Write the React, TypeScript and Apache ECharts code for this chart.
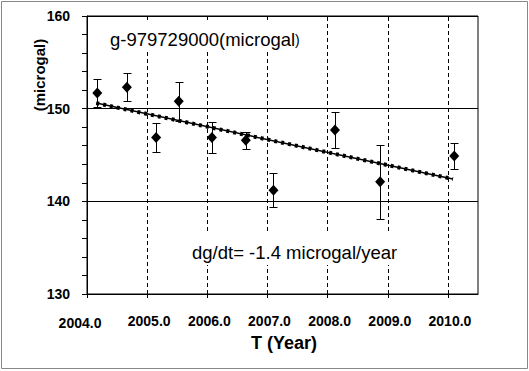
import React, { useEffect, useRef } from "react";
import * as echarts from "echarts";

const years = [2004.171, 2004.663, 2005.149, 2005.525, 2006.077, 2006.64, 2007.1, 2008.122, 2008.873, 2010.105];
const gravity = [151.7, 152.3, 146.9, 150.8, 146.9, 146.6, 141.2, 147.7, 142.1, 144.9];
const errors = [1.5, 1.5, 1.55, 2.1, 1.7, 0.9, 1.85, 1.95, 4.0, 1.4];
const trendX = [2004.154, 2010.083];
const trendY = [150.6, 142.41];
const xTicks = [2004, 2005, 2006, 2007, 2008, 2009, 2010];
const dashedYears = [2005, 2006, 2007, 2008, 2009, 2010];

const FONT = "'Liberation Sans', Arial, sans-serif";

export default function App() {
  const ref = useRef<HTMLDivElement>(null);
  useEffect(() => {
    if (!ref.current) return;
    const chart = echarts.init(ref.current, undefined, { renderer: "svg" });
    const points = years.map((x, i) => [x, gravity[i]]);
    const errData = years.map((x, i) => [x, gravity[i], errors[i]]);
    const trend = trendX.map((x, i) => [x, trendY[i]]);
    chart.setOption({
      animation: false,
      backgroundColor: "#fff",
      grid: {
        left: 87,
        top: 16,
        right: 51,
        bottom: 77,
        show: true,
        borderColor: "#000",
        borderWidth: 1,
        backgroundColor: "transparent",
      },
      xAxis: {
        type: "value",
        min: 2004,
        max: 2010.5,
        interval: 1,
        axisLine: { show: true, lineStyle: { color: "#000", width: 1 } },
        axisTick: { show: true, length: 4, lineStyle: { color: "#000" }, customValues: xTicks },
        splitLine: { show: false },
        axisLabel: {
          customValues: xTicks,
          margin: 20,
          color: "#000",
          fontWeight: "bold",
          fontSize: 14,
          fontFamily: FONT,
          formatter: (v: number) =>
            Number.isInteger(v) ? (v === 2004 ? "{f|" + v.toFixed(1) + "}" : "{o|" + v.toFixed(1) + "}") : "",
          rich: {
            f: { fontWeight: "bold", fontSize: 14, fontFamily: FONT, color: "#000", padding: [2, 14, 0, 0] },
            o: { fontWeight: "bold", fontSize: 14, fontFamily: FONT, color: "#000", padding: [0, 0, 0, 4] },
          },
        },
      },
      yAxis: {
        type: "value",
        min: 130,
        max: 160,
        interval: 10,
        axisLine: { show: true, lineStyle: { color: "#000", width: 1 } },
        axisTick: { show: true, length: 5, lineStyle: { color: "#000" } },
        minorTick: { show: true, splitNumber: 5, length: 5, lineStyle: { color: "#000" } },
        splitLine: { show: true, lineStyle: { color: "#000", width: 1 } },
        axisLabel: {
          margin: 17,
          color: "#000",
          fontWeight: "bold",
          fontSize: 14,
          fontFamily: FONT,
        },
      },
      series: [
        {
          type: "line",
          data: trend,
          showSymbol: false,
          lineStyle: { color: "#000", width: 1.5 },
          z: 3,
        },
        {
          type: "line",
          data: trend,
          showSymbol: false,
          lineStyle: { color: "#000", width: 4, type: [3, 4] },
          z: 3,
          markLine: {
            silent: true,
            symbol: "none",
            label: { show: false },
            lineStyle: { color: "#000", width: 1, type: [4, 3] },
            data: dashedYears.map((v) => ({ xAxis: v })),
          },
        },
        {
          type: "custom",
          data: errData,
          encode: { x: 0, y: 1 },
          z: 4,
          renderItem: (params: any, api: any) => {
            const x = api.value(0);
            const y = api.value(1);
            const e = api.value(2);
            const top = api.coord([x, y + e]);
            const bot = api.coord([x, y - e]);
            const cx = Math.round(top[0]) + 0.5;
            const ty = Math.round(top[1]) + 0.5;
            const by = Math.round(bot[1]) + 0.5;
            const hw = 4;
            const st = { stroke: "#000", lineWidth: 1 };
            return {
              type: "group",
              children: [
                { type: "line", shape: { x1: cx, y1: ty, x2: cx, y2: by }, style: st },
                { type: "line", shape: { x1: cx - hw, y1: ty, x2: cx + hw, y2: ty }, style: st },
                { type: "line", shape: { x1: cx - hw, y1: by, x2: cx + hw, y2: by }, style: st },
              ],
            };
          },
        },
        {
          type: "scatter",
          data: points,
          symbol: "diamond",
          symbolSize: [10, 11],
          itemStyle: { color: "#000", opacity: 1 },
          z: 5,
        },
      ],
      graphic: [
        {
          type: "rect",
          z: 100,
          shape: { x: 1.5, y: 1.5, width: 526, height: 367 },
          style: { fill: "none", stroke: "#888", lineWidth: 1 },
          silent: true,
        },
        {
          type: "rect",
          z: 100,
          shape: { x: 104, y: 20, width: 203, height: 29 },
          style: { fill: "#fff" },
          silent: true,
        },
        {
          type: "rect",
          z: 100,
          shape: { x: 186, y: 232, width: 220, height: 33 },
          style: { fill: "#fff" },
          silent: true,
        },
        {
          type: "text",
          z: 101,
          x: 110,
          y: 39.5,
          style: {
            text: "{a|g-979729000(microgal}{b|)}",
            rich: {
              a: { fontSize: 18.5, fontFamily: FONT, fill: "#000" },
              b: { fontSize: 14, fontFamily: FONT, fill: "#000" },
            },
            textAlign: "left",
            textVerticalAlign: "middle",
          },
        },
        {
          type: "text",
          z: 101,
          x: 192,
          y: 252.5,
          style: {
            text: "dg/dt= -1.4 microgal/year",
            fontSize: 18.5,
            fontFamily: FONT,
            fill: "#000",
            textAlign: "left",
            textVerticalAlign: "middle",
          },
        },
        {
          type: "text",
          z: 101,
          x: 39,
          y: 75,
          rotation: Math.PI / 2,
          style: {
            text: "(microgal)",
            fontSize: 15,
            fontWeight: "bold",
            fontFamily: FONT,
            fill: "#000",
            textAlign: "center",
            textVerticalAlign: "middle",
          },
        },
        {
          type: "text",
          z: 101,
          x: 284,
          y: 343,
          style: {
            text: "T (Year)",
            fontSize: 18,
            fontWeight: "bold",
            fontFamily: FONT,
            fill: "#000",
            textAlign: "center",
            textVerticalAlign: "middle",
          },
        },
      ],
    });
    return () => chart.dispose();
  }, []);
  return (
    <div
      ref={ref}
      style={{ position: "absolute", left: 0, top: 0, width: 529, height: 371 }}
    />
  );
}
